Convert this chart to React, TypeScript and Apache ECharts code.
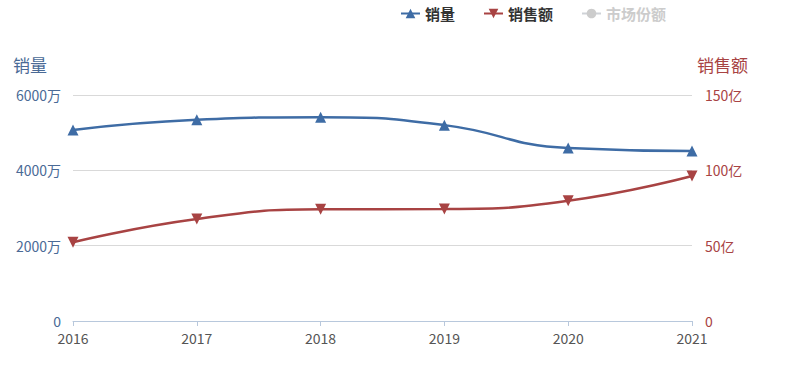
import React, { useEffect, useRef } from "react";
import * as echarts from "echarts";

const years = ["2016", "2017", "2018", "2019", "2020", "2021"];
const salesVolume = [5070, 5340, 5410, 5200, 4590, 4510]; // 万
const salesAmount = [52.3, 67.7, 74.1, 74.3, 79.8, 96.2]; // 亿
const marketShare: number[] = [];

const BLUE = "#3e6ca5";
const RED = "#a84343";

export default function App() {
  const ref = useRef<HTMLDivElement>(null);
  useEffect(() => {
    const chart = echarts.init(ref.current!, undefined, { renderer: "svg" });
    chart.setOption({
      animation: false,
      textStyle: { fontFamily: "Noto Sans CJK SC, sans-serif" },
      legend: {
        top: 1,
        left: 395,
        itemGap: 28,
        itemWidth: 19,
        itemHeight: 12,
        textStyle: { fontSize: 15, fontWeight: "bold", color: "#333" },
        inactiveColor: "#ccc",
        selected: { 市场份额: false },
        data: ["销量", "销售额", "市场份额"],
      },
      grid: { left: 73, right: 95, top: 95, bottom: 44, containLabel: false },
      xAxis: {
        type: "category",
        data: years,
        boundaryGap: false,
        axisLine: { lineStyle: { color: "#b8c8dc" } },
        axisTick: { lineStyle: { color: "#b8c8dc" } },
        axisLabel: { color: "#555", fontSize: 14, margin: 10 },
      },
      yAxis: [
        {
          type: "value",
          name: "销量",
          min: 0,
          max: 6000,
          interval: 2000,
          nameGap: 22,
          nameTextStyle: { color: "#4a6a96", fontSize: 17, align: "right", padding: [0, 26, 0, 0] },
          axisLine: { show: false },
          axisTick: { show: false },
          axisLabel: {
            color: "#4a6a96",
            fontSize: 14,
            margin: 12,
            formatter: (v: number) => (v === 0 ? "0" : v + "万"),
          },
          splitLine: { lineStyle: { color: "#d9d9d9" } },
        },
        {
          type: "value",
          name: "销售额",
          min: 0,
          max: 150,
          interval: 50,
          nameGap: 22,
          nameTextStyle: { color: "#a84343", fontSize: 17, align: "left", padding: [0, 0, 0, 5] },
          axisLine: { show: false },
          axisTick: { show: false },
          axisLabel: {
            color: "#a84343",
            fontSize: 14,
            margin: 13,
            formatter: (v: number) => (v === 0 ? "0" : v + "亿"),
          },
          splitLine: { show: false },
        },
      ],
      series: [
        {
          name: "销量",
          type: "line",
          yAxisIndex: 0,
          smooth: true,
          data: salesVolume,
          symbol: "triangle",
          symbolSize: 11,
          itemStyle: { color: BLUE },
          lineStyle: { color: BLUE, width: 2.5 },
        },
        {
          name: "销售额",
          type: "line",
          yAxisIndex: 1,
          smooth: true,
          data: salesAmount,
          symbol: "triangle",
          symbolRotate: 180,
          symbolSize: 11,
          itemStyle: { color: RED },
          lineStyle: { color: RED, width: 2.5 },
        },
        {
          name: "市场份额",
          type: "line",
          yAxisIndex: 1,
          smooth: true,
          data: marketShare,
          symbol: "circle",
          itemStyle: { color: "#999" },
        },
      ],
    });
    return () => chart.dispose();
  }, []);
  return <div ref={ref} style={{ width: 787, height: 365, position: "absolute", left: 0, top: 0 }} />;
}
